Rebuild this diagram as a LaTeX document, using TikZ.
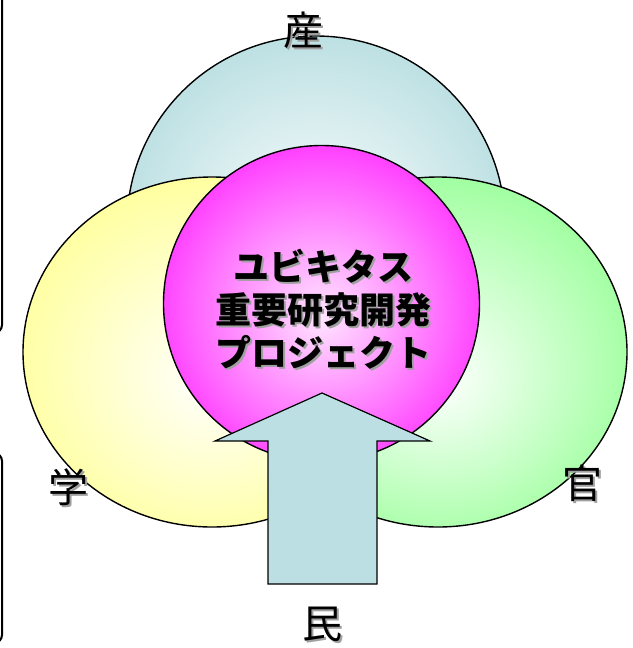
\documentclass[tikz,border=0pt]{standalone}
\usepackage{fontspec}
\newfontfamily\jp{Noto Sans CJK JP}
\usetikzlibrary{shapes.geometric}
\definecolor{sanc}{HTML}{B8DEE1}
\definecolor{gakuc}{HTML}{FFFF99}
\definecolor{kanc}{HTML}{99FF99}
\definecolor{magc}{HTML}{FF00FF}
\definecolor{magin}{HTML}{FFE6FF}
\definecolor{arrc}{HTML}{BBDFE2}
\definecolor{shadowc}{HTML}{A0A0A0}
\pgfdeclareradialshading{sansh}{\pgfpoint{0bp}{-2bp}}{color(0bp)=(white); color(28bp)=(sanc); color(50bp)=(sanc)}
\pgfdeclareradialshading{gakush}{\pgfpoint{0bp}{-4bp}}{color(0bp)=(white); color(29bp)=(gakuc); color(50bp)=(gakuc)}
\pgfdeclareradialshading{kansh}{\pgfpoint{0bp}{-4bp}}{color(0bp)=(white); color(29bp)=(kanc); color(50bp)=(kanc)}
\pgfdeclareradialshading{magsh}{\pgfpoint{0bp}{-2bp}}{color(0bp)=(magin); color(36bp)=(magc); color(50bp)=(magc)}
\newcommand\shtext[1]{\makebox[0pt][l]{\kern2pt\raisebox{-2pt}{\color{shadowc}#1}}#1}
\tikzset{
  blob/.style={draw=black, line width=1.4pt, inner sep=0pt, outer sep=0pt},
  frame/.style={draw=black, line width=2pt, rounded corners=8pt},
  bigarrow/.style={draw=black, line width=1.2pt, fill=arrc, line join=miter},
  label/.style={font=\jp\fontsize{40}{40}\selectfont, inner sep=0pt},
  title/.style={font=\jp\bfseries\fontsize{36}{43}\selectfont, align=center, inner sep=0pt}
}
\begin{document}
\begin{tikzpicture}[x=1pt,y=-1pt]
\useasboundingbox (0,0) rectangle (632,648);
% partial frames at left edge
\draw[frame] (-30,-20) rectangle (2,333);
\draw[frame] (-30,453) rectangle (2,643);
% circles
\node[blob, circle, minimum size=378pt, shading=sansh] (san) at (316,225) {};
\node[blob, ellipse, minimum width=378pt, minimum height=350pt, shading=gakush] (gaku) at (212,352) {};
\node[blob, ellipse, minimum width=378pt, minimum height=350pt, shading=kansh] (kan) at (438,352) {};
\node[blob, circle, minimum size=316pt, shading=magsh] (core) at (321.5,303.5) {};
% arrow
\coordinate (tip) at (322,393);
\draw[bigarrow] (268,584) -- (268,441) -- (215,441) -- (tip) -- (430,441) -- (377,441) -- (377,584) -- cycle;
% labels
\node[label] (sanL) at (303,31) {\shtext{産}};
\node[label] (gakuL) at (68,488) {\shtext{学}};
\node[label] (kanL) at (582,484) {\shtext{官}};
\node[label] (minL) at (322,625) {\shtext{民}};
% title
\node[title] (titleL) at (323,310) {\shtext{ユビキタス}\\\shtext{重要研究開発}\\\shtext{プロジェクト}};
\end{tikzpicture}
\end{document}
